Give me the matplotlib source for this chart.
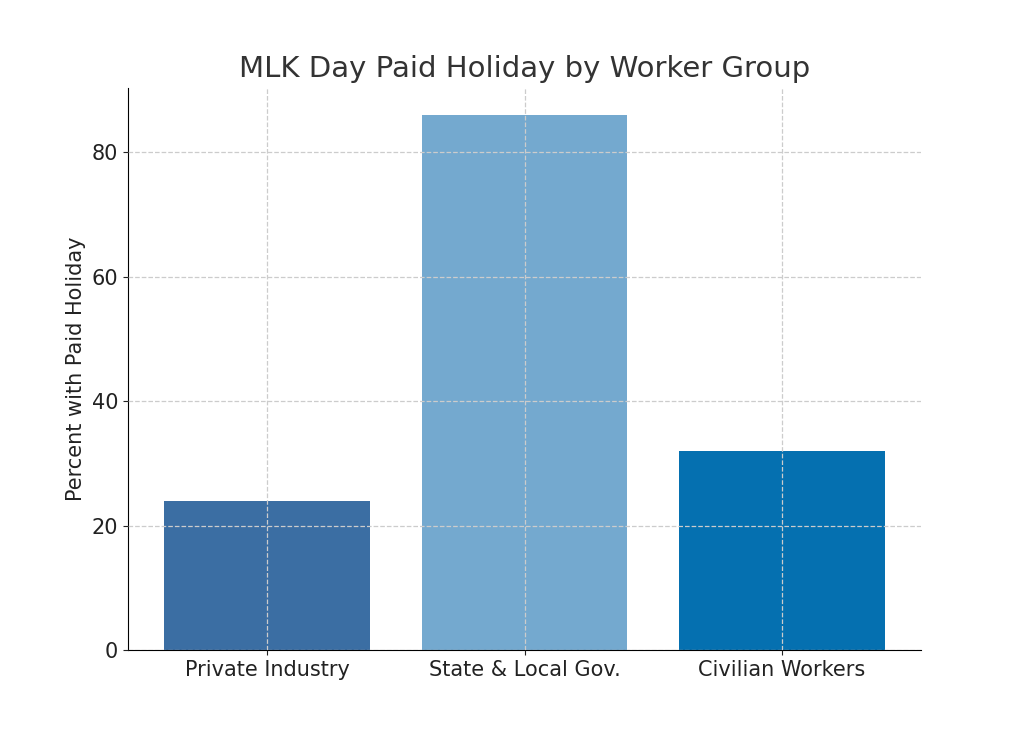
import matplotlib
matplotlib.use("Agg")
import matplotlib.pyplot as plt

categories = ["Private Industry", "State & Local Gov.", "Civilian Workers"]
values = [24, 86, 32]
colors = ["#3B6EA3", "#74A9CF", "#0570B0"]

fig = plt.figure(figsize=(10.24, 7.31), dpi=100)
ax = fig.add_axes([128/1024, 1-650/731, (921-128)/1024, (650-88)/731])
ax.bar(categories, values, color=colors, width=0.8, zorder=2)
ax.grid(True, linestyle="--", color="#cccccc", linewidth=0.9, zorder=0)
ax.set_axisbelow(False)
for b in ax.patches:
    b.set_zorder(1)
ax.spines["top"].set_visible(False)
ax.spines["right"].set_visible(False)
ax.tick_params(labelsize=15, colors="#222222")
ax.set_ylabel("Percent with Paid Holiday", fontsize=15, color="#222222")
ax.set_title("MLK Day Paid Holiday by Worker Group", fontsize=21, color="#333333", pad=8)
fig.savefig("out.png", dpi=100)
